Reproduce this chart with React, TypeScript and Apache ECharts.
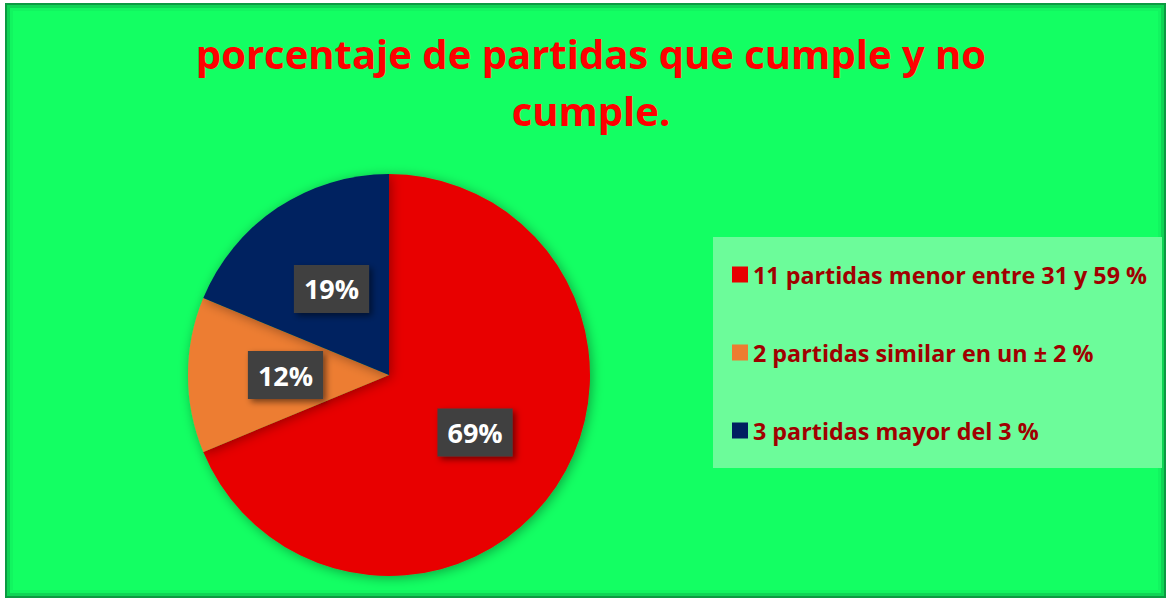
import React, { useEffect, useRef } from "react";
import * as echarts from "echarts";

const categories = [
  "11 partidas menor entre 31 y 59 %",
  "2 partidas similar en un ± 2 %",
  "3 partidas mayor del 3 %",
];
const counts = [11, 2, 3];
const percentLabels = ["69%", "12%", "19%"];
const sliceColors = ["#E80000", "#ED7D31", "#002060"];
const titleText = "porcentaje de partidas que cumple y no\ncumple.";

export default function App() {
  const ref = useRef<HTMLDivElement>(null);
  useEffect(() => {
    if (!ref.current) return;
    const chart = echarts.init(ref.current, null, { renderer: "svg" });
    const font = "'Open Sans', 'Noto Sans', sans-serif";
    chart.setOption({
      animation: false,
      backgroundColor: "#ffffff",
      graphic: [
        {
          type: "rect",
          z: -10,
          shape: { x: 5, y: 3, width: 1161, height: 595 },
          style: { fill: "#0C9A42" },
        },
        {
          type: "rect",
          z: -9,
          shape: { x: 7, y: 5, width: 1157, height: 591 },
          style: { fill: "#0FD455" },
        },
        {
          type: "rect",
          z: -8,
          shape: { x: 10, y: 8, width: 1151, height: 585 },
          style: { fill: "#12F560" },
        },
        {
          type: "rect",
          z: -7,
          shape: { x: 13, y: 11, width: 1145, height: 579 },
          style: { fill: "#13FF63" },
        },
        {
          type: "rect",
          z: -6,
          shape: { x: 713, y: 237, width: 449, height: 231 },
          style: { fill: "#6CFC9A" },
        },
      ],
      title: {
        text: titleText,
        left: 586,
        top: 20,
        textAlign: "center",
        textStyle: {
          color: "#FF0000",
          fontFamily: font,
          fontWeight: "bold",
          fontSize: 40,
          lineHeight: 57,
        },
      },
      legend: {
        orient: "vertical",
        left: 727,
        top: 256,
        icon: "rect",
        itemWidth: 16,
        itemHeight: 16,
        itemGap: 51,
        data: categories,
        textStyle: {
          color: "#A00000",
          fontFamily: font,
          fontWeight: "bold",
          fontSize: 23.3,
          lineHeight: 27,
        },
      },
      series: [
        {
          type: "pie",
          center: [389, 375],
          radius: 201,
          startAngle: 90,
          clockwise: true,
          avoidLabelOverlap: false,
          itemStyle: {
            shadowBlur: 12,
            shadowColor: "rgba(0,0,0,0.35)",
            shadowOffsetX: 2,
            shadowOffsetY: 2,
          },
          emphasis: { disabled: true },
          label: {
            show: true,
            position: "inside",
            formatter: (p: any) => percentLabels[p.dataIndex],
            color: "#ffffff",
            fontFamily: font,
            fontWeight: "bold",
            fontSize: 27,
            backgroundColor: "#404040",
            padding: [12, 10, 9, 10],
            shadowColor: "rgba(0,0,0,0.5)",
            shadowBlur: 6,
            shadowOffsetX: 3,
            shadowOffsetY: 3,
          },
          labelLine: { show: false },
          data: categories.map((name, i) => ({
            name,
            value: counts[i],
            itemStyle: { color: sliceColors[i] },
          })),
        },
      ],
    });
    return () => chart.dispose();
  }, []);
  return (
    <div
      ref={ref}
      style={{ position: "absolute", left: 0, top: 0, width: 1169, height: 602 }}
    />
  );
}
